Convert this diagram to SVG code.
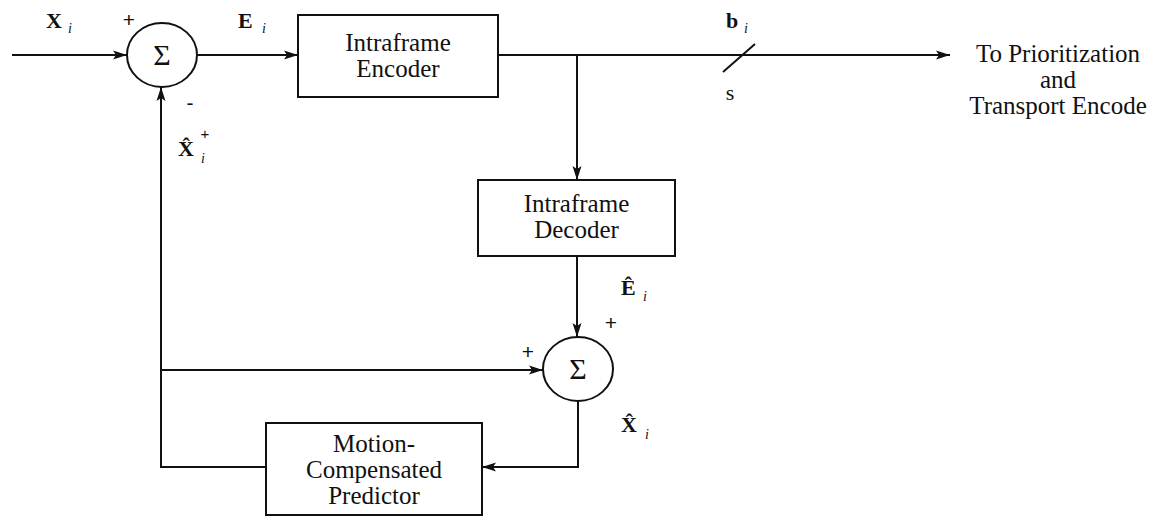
<svg xmlns="http://www.w3.org/2000/svg" width="1162" height="519" viewBox="0 0 1162 519">
<style>
.ln{fill:none;stroke:#111;stroke-width:2}
.bx{fill:#fff;stroke:#111;stroke-width:2}
.t{font-family:"Liberation Serif","Times New Roman",serif;font-size:25px;fill:#111;text-anchor:middle}
.sg{font-family:"Liberation Serif","Times New Roman",serif;font-size:30px;fill:#111;text-anchor:middle}
.v{font-family:"Liberation Serif","Times New Roman",serif;font-size:22px;font-weight:bold;fill:#111}
.sub{font-family:"Liberation Serif","Times New Roman",serif;font-size:14px;font-style:italic;fill:#111}
.pm{font-family:"Liberation Sans",Arial,sans-serif;font-size:21px;fill:#111;text-anchor:middle}
.sp{font-family:"Liberation Sans",Arial,sans-serif;font-size:15px;fill:#111;text-anchor:middle}
</style>
<defs>
<marker id="ah" markerUnits="userSpaceOnUse" markerWidth="15" markerHeight="10" refX="14" refY="5" orient="auto">
<path d="M0,0.5 L14,5 L0,9.5 L3,5 Z" fill="#111"/>
</marker>
</defs>
<g id="connectors">
<line class="ln" x1="12" y1="55" x2="127" y2="55" marker-end="url(#ah)"/>
<line class="ln" x1="197" y1="55" x2="298" y2="55" marker-end="url(#ah)"/>
<line class="ln" x1="498" y1="55" x2="950" y2="55" marker-end="url(#ah)"/>
<line class="ln" x1="723" y1="72" x2="755" y2="44"/>
<line class="ln" x1="577" y1="55" x2="577" y2="180" marker-end="url(#ah)"/>
<line class="ln" x1="577" y1="256" x2="577" y2="337" marker-end="url(#ah)"/>
<polyline class="ln" points="578,401 578,467 482,467" marker-end="url(#ah)"/>
<polyline class="ln" points="266,467 161,467 161,87" marker-end="url(#ah)"/>
<line class="ln" x1="161" y1="370" x2="543" y2="370" marker-end="url(#ah)"/>
</g>
<g id="sum1">
<ellipse class="bx" cx="162" cy="55" rx="35" ry="32"/>
<text class="sg" x="162" y="65">Σ</text>
</g>
<g id="encoder">
<rect class="bx" x="298" y="15" width="200" height="82"/>
<text class="t" x="398" y="51">Intraframe</text>
<text class="t" x="398" y="77">Encoder</text>
</g>
<g id="decoder">
<rect class="bx" x="478" y="180" width="197" height="76"/>
<text class="t" x="576.5" y="212">Intraframe</text>
<text class="t" x="576.5" y="238">Decoder</text>
</g>
<g id="sum2">
<ellipse class="bx" cx="578" cy="369" rx="35" ry="32"/>
<text class="sg" x="578" y="379">Σ</text>
</g>
<g id="predictor">
<rect class="bx" x="266" y="423" width="216" height="92"/>
<text class="t" x="374" y="452">Motion-</text>
<text class="t" x="374" y="478">Compensated</text>
<text class="t" x="374" y="504">Predictor</text>
</g>
<g id="output">
<text class="t" x="1058" y="62">To Prioritization</text>
<text class="t" x="1058" y="88">and</text>
<text class="t" x="1058" y="114">Transport Encode</text>
</g>
<g id="labels">
<text class="v" x="46" y="28">X</text><text class="sub" x="68" y="33">i</text>
<text class="pm" x="129" y="27">+</text>
<text class="v" x="238" y="28">E</text><text class="sub" x="262" y="33">i</text>
<text class="pm" x="190" y="110">-</text>
<text class="v" x="178" y="156">X̂</text><text class="sub" x="201" y="163">i</text>
<text class="sp" x="205" y="139">+</text>
<text class="v" x="726" y="28">b</text><text class="sub" x="744" y="33">i</text>
<text class="t" x="730" y="100" style="font-size:22px">s</text>
<text class="v" x="621" y="295">Ê</text><text class="sub" x="643" y="301">i</text>
<text class="pm" x="611" y="330">+</text>
<text class="pm" x="528" y="359">+</text>
<text class="v" x="621" y="432">X̂</text><text class="sub" x="645" y="439">i</text>
</g>
</svg>
